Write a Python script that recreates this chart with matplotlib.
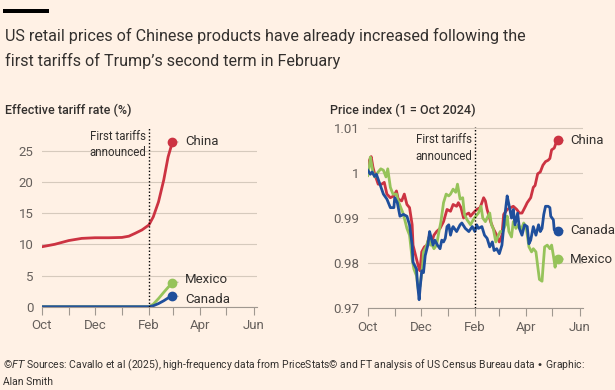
import matplotlib
matplotlib.use("Agg")
import matplotlib.pyplot as plt
import matplotlib.dates as mdates
import pandas as pd

plt.rcParams['font.family'] = ['Roboto', 'DejaVu Sans']

BG = '#fff1e5'
TXT = '#33302e'
GREY = '#66605c'
GRID = '#d6cabd'
RED = '#cc3342'
GREEN = '#96c35a'
BLUE = '#1f4f9c'

start = pd.Timestamp('2024-10-01')

# effective tariff rate (%), days since 1 Oct 2024
tariff_china_days = [0, 15, 31, 46, 61, 77, 92, 100, 107, 115, 123, 128, 134, 140, 145, 150]
tariff_china = [9.6, 10.0, 10.6, 10.95, 11.05, 11.05, 11.1, 11.3, 11.75, 12.3, 13.1, 14.4, 16.8, 20.3, 24.0, 26.4]
tariff_other_days = [0, 60, 123, 128, 134, 140, 145, 150]
tariff_mexico = [0, 0, 0, 0.4, 1.3, 2.3, 3.1, 3.85]
tariff_canada = [0, 0, 0, 0.15, 0.5, 0.95, 1.4, 1.76]

# price index (1 = Oct 2024)
china_days = [0, 2, 4, 6, 8, 12, 16, 19, 22, 26, 30, 33, 35, 39, 42, 45, 48, 51, 52, 56,
              58, 60, 62, 65, 68, 71, 74, 76, 79, 83, 87, 91, 95, 98, 102, 104, 107, 110, 113, 116,
              118, 121, 125, 129, 133, 135, 137, 141, 144, 148, 151, 154, 156, 160, 164, 167, 171, 174, 177, 181,
              183, 187, 190, 192, 195, 198, 201, 204, 207, 209, 211, 214, 216, 218]
china = [1.0009, 1.0028, 1.0036, 1.0013, 0.9998, 0.9975, 0.9975, 0.9979, 0.9953, 0.9945,
         0.9949, 0.9960, 0.9942, 0.9938, 0.9953, 0.9930, 0.9923, 0.9885, 0.9840, 0.9809,
         0.9794, 0.9783, 0.9825, 0.9836, 0.9840, 0.9862, 0.9851, 0.9862, 0.9870, 0.9877,
         0.9892, 0.9919, 0.9915, 0.9930, 0.9926, 0.9934, 0.9923, 0.9900, 0.9908, 0.9911,
         0.9904, 0.9911, 0.9919, 0.9923, 0.9945, 0.9938, 0.9919, 0.9892, 0.9877, 0.9862,
         0.9847, 0.9862, 0.9908, 0.9919, 0.9923, 0.9926, 0.9919, 0.9911, 0.9911, 0.9926,
         0.9934, 0.9945, 0.9968, 0.9972, 0.9998, 1.0002, 1.0017, 1.0025, 1.0028, 1.0032,
         1.0051, 1.0055, 1.0066, 1.0072]

mexico_days = [0, 2, 3, 6, 8, 12, 15, 18, 21, 23, 26, 29, 33, 35, 38, 41, 45, 48, 51, 53,
               56, 58, 60, 63, 64, 67, 70, 72, 74, 76, 79, 81, 84, 87, 90, 93, 95, 98, 101, 103,
               106, 109, 111, 114, 118, 121, 124, 127, 130, 132, 135, 138, 140, 142, 144, 147, 150, 152, 155, 158,
               160, 162, 165, 167, 170, 173, 176, 179, 182, 185, 188, 190, 193, 195, 197, 200, 201, 203, 206, 209,
               211, 213, 215, 216, 218]
mexico = [0.9994, 1.0017, 1.0035, 1.0002, 0.9991, 1.0002, 1.0009, 1.0006, 0.9991, 1.0009,
          0.9968, 0.9953, 0.9953, 0.9938, 0.9923, 0.9908, 0.9877, 0.9862, 0.9809, 0.9787,
          0.9772, 0.9742, 0.9749, 0.9794, 0.9825, 0.9836, 0.9855, 0.9840, 0.9840, 0.9832,
          0.9840, 0.9862, 0.9892, 0.9934, 0.9953, 0.9949, 0.9953, 0.9964, 0.9957, 0.9975,
          0.9942, 0.9945, 0.9908, 0.9896, 0.9885, 0.9896, 0.9904, 0.9911, 0.9926, 0.9900,
          0.9892, 0.9904, 0.9911, 0.9885, 0.9877, 0.9847, 0.9862, 0.9870, 0.9870, 0.9885,
          0.9904, 0.9870, 0.9858, 0.9892, 0.9877, 0.9885, 0.9874, 0.9889, 0.9877, 0.9836,
          0.9825, 0.9832, 0.9825, 0.9794, 0.9764, 0.9760, 0.9787, 0.9836, 0.9840, 0.9832,
          0.9840, 0.9817, 0.9791, 0.9809, 0.9809]

canada_days = [0, 3, 5, 8, 10, 14, 18, 22, 26, 30, 31, 34, 37, 41, 45, 48, 51, 52, 56, 57,
               59, 60, 62, 64, 66, 69, 71, 73, 75, 77, 80, 83, 85, 87, 89, 91, 93, 95, 97, 98,
               102, 106, 108, 112, 116, 120, 123, 125, 127, 131, 134, 137, 140, 143, 145, 148, 151, 154, 157, 160,
               162, 165, 167, 169, 172, 174, 177, 180, 183, 185, 187, 190, 193, 196, 198, 200, 202, 204, 207, 209,
               210, 213, 214, 216, 218]
canada = [1.0006, 0.9997, 1.0002, 0.9992, 0.9997, 0.9975, 0.9953, 0.9942, 0.9923, 0.9923,
          0.9945, 0.9934, 0.9904, 0.9908, 0.9904, 0.9885, 0.9840, 0.9802, 0.9787, 0.9757,
          0.9719, 0.9742, 0.9783, 0.9779, 0.9817, 0.9840, 0.9870, 0.9855, 0.9840, 0.9851,
          0.9840, 0.9832, 0.9851, 0.9847, 0.9855, 0.9881, 0.9885, 0.9862, 0.9877, 0.9881,
          0.9870, 0.9885, 0.9889, 0.9877, 0.9870, 0.9881, 0.9870, 0.9885, 0.9877, 0.9881,
          0.9862, 0.9855, 0.9836, 0.9847, 0.9828, 0.9832, 0.9821, 0.9840, 0.9900, 0.9949,
          0.9930, 0.9900, 0.9919, 0.9885, 0.9911, 0.9877, 0.9862, 0.9885, 0.9881, 0.9843,
          0.9851, 0.9881, 0.9862, 0.9885, 0.9870, 0.9877, 0.9908, 0.9926, 0.9926, 0.9923,
          0.9904, 0.9896, 0.9874, 0.9871, 0.9872]

tariff_date = pd.Timestamp('2025-02-01')


def to_dates(days):
    return [start + pd.Timedelta(days=d) for d in days]


fig = plt.figure(figsize=(6.15, 3.9), dpi=100, facecolor=BG)

# FT bar + title
fig.add_artist(plt.Rectangle((3 / 615, 1 - 12.5 / 390), 46 / 615, 3.5 / 390,
                             transform=fig.transFigure, color='black', lw=0))
fig.text(5 / 615, 1 - 41 / 390, "US retail prices of Chinese products have already increased following the",
         fontsize=11.6, color=TXT, va='baseline')
fig.text(5 / 615, 1 - 66 / 390, "first tariffs of Trump\u2019s second term in February",
         fontsize=11.6, color=TXT, va='baseline')

ax1 = fig.add_axes([41.7 / 615, 1 - 306.7 / 390, (257 - 41.7) / 615, (306.7 - 127) / 390])
ax2 = fig.add_axes([367.7 / 615, 1 - 308.3 / 390, (583 - 367.7) / 615, (308.3 - 127.3) / 390])

fig.text(5 / 615, 1 - 114 / 390, "Effective tariff rate (%)", fontsize=9, color=TXT,
         fontweight='medium', va='baseline')
fig.text(330 / 615, 1 - 114 / 390, "Price index (1 = Oct 2024)", fontsize=9, color=TXT,
         fontweight='medium', va='baseline')

for ax in (ax1, ax2):
    ax.set_facecolor(BG)
    for s in ('top', 'right', 'left'):
        ax.spines[s].set_visible(False)
    ax.spines['bottom'].set_color('#a09890')
    ax.spines['bottom'].set_linewidth(0.8)
    ax.xaxis.set_major_locator(mdates.MonthLocator(bymonth=[10, 12, 2, 4, 6]))
    ax.xaxis.set_minor_locator(mdates.MonthLocator())
    ax.xaxis.set_major_formatter(mdates.DateFormatter('%b'))
    ax.tick_params(axis='x', which='both', length=6, color='#a09890', width=0.8,
                   labelsize=9.5, labelcolor=GREY, pad=3)
    ax.tick_params(axis='y', length=0, labelsize=9.5, labelcolor=GREY, pad=6)
    ax.grid(axis='y', color=GRID, lw=0.8)
    ax.set_axisbelow(True)
    ax.set_xlim(start, pd.Timestamp('2025-06-05'))
    ax.axvline(tariff_date, color='black', ls=(0, (1, 1.5)), lw=1.0, zorder=5)

# left panel
ax1.set_ylim(0, 28.8)
ax1.set_yticks([0, 5, 10, 15, 20, 25])
ax1.plot(to_dates(tariff_china_days), tariff_china, color=RED, lw=2, solid_capstyle='round')
ax1.plot(to_dates(tariff_other_days), tariff_mexico, color=GREEN, lw=2, solid_capstyle='round')
ax1.plot(to_dates(tariff_other_days), tariff_canada, color=BLUE, lw=2, solid_capstyle='round')
ax1.text(pd.Timestamp('2025-01-29'), 27.3, "First tariffs", ha='right', va='center', fontsize=8.3, color=TXT)
ax1.text(pd.Timestamp('2025-01-29'), 24.7, "announced", ha='right', va='center', fontsize=8.3, color=TXT)

left_labels = [("China", tariff_china, RED, 0), ("Mexico", tariff_mexico, GREEN, 2),
               ("Canada", tariff_canada, BLUE, -3)]
for name, vals, col, dy in left_labels:
    days = tariff_china_days if name == "China" else tariff_other_days
    x = to_dates(days)[-1]
    ax1.plot([x], [vals[-1]], 'o', color=col, ms=6, zorder=6, clip_on=False)
    ax1.annotate(name, (x, vals[-1]), xytext=(9, dy), textcoords='offset points',
                 va='center', ha='left', fontsize=9.5, color=TXT,
                 arrowprops=dict(arrowstyle='-', color='#b8b0a8', lw=0.9, shrinkA=3, shrinkB=1))

# right panel
ax2.set_ylim(0.97, 1.0101)
ax2.set_yticks([0.97, 0.98, 0.99, 1.0, 1.01])
ax2.set_yticklabels(['0.97', '0.98', '0.99', '1', '1.01'])
ax2.plot(to_dates(china_days), china, color=RED, lw=2, solid_joinstyle='round')
ax2.plot(to_dates(mexico_days), mexico, color=GREEN, lw=2, solid_joinstyle='round')
ax2.plot(to_dates(canada_days), canada, color=BLUE, lw=2, solid_joinstyle='round')
ax2.text(pd.Timestamp('2025-01-29'), 1.0073, "First tariffs", ha='right', va='center', fontsize=8.3, color=TXT)
ax2.text(pd.Timestamp('2025-01-29'), 1.0037, "announced", ha='right', va='center', fontsize=8.3, color=TXT)

right_labels = [("China", china_days, china, RED), ("Canada", canada_days, canada, BLUE),
                ("Mexico", mexico_days, mexico, GREEN)]
for name, days, vals, col in right_labels:
    x = to_dates(days)[-1]
    ax2.plot([x], [vals[-1]], 'o', color=col, ms=6, zorder=6, clip_on=False)
    ax2.annotate(name, (x, vals[-1]), xytext=(9, 0), textcoords='offset points',
                 va='center', ha='left', fontsize=9.5, color=TXT,
                 arrowprops=dict(arrowstyle='-', color='#b8b0a8', lw=0.9, shrinkA=3, shrinkB=1))

# footer
fig.text(3 / 615, 1 - 368 / 390,
         "\u00a9$\\it{FT}$ Sources: Cavallo et al (2025), high-frequency data from PriceStats\u00a9 and FT analysis of US Census Bureau data \u2022 Graphic:",
         fontsize=7.5, color=TXT, va='baseline')
fig.text(3 / 615, 1 - 385 / 390, "Alan Smith", fontsize=7.5, color=TXT, va='baseline')

fig.savefig('out.png', dpi=100, facecolor=BG)
